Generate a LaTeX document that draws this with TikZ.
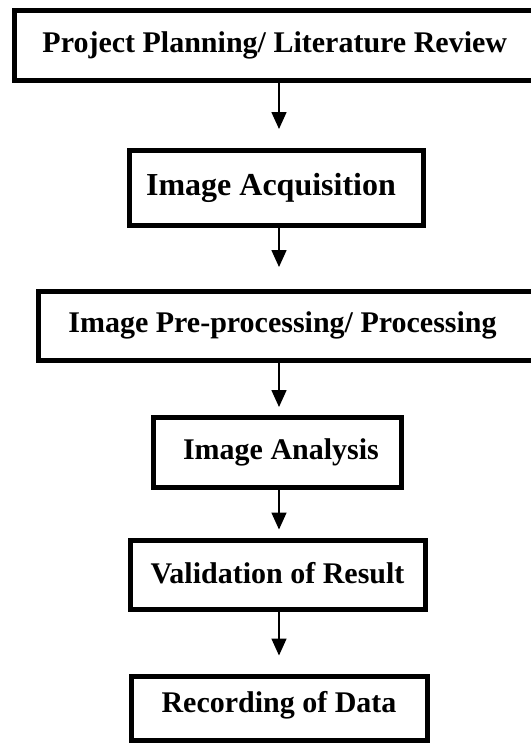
\documentclass[tikz,border=0pt]{standalone}
\usepackage{fontspec}
\setmainfont{Liberation Serif}
\usetikzlibrary{arrows.meta}
\tikzset{
  stepbox/.style={draw=black, line width=5pt, rectangle, inner sep=0pt,
    font=\fontsize{30}{36}\selectfont\bfseries, anchor=center},
  arr/.style={line width=1.6pt, -{Triangle[length=17pt,width=15pt]}}
}
\begin{document}
\begin{tikzpicture}[x=1pt,y=-1pt]
\useasboundingbox (0,0) rectangle (530,744);
\fill[white] (0,0) rectangle (530,744);
\node[stepbox, minimum width=520.5pt, minimum height=70pt] (b1) at (274.75,45) {\raisebox{-2pt}{Project Planning/ Literature Review}};
\node[stepbox, minimum width=294pt, minimum height=75pt, font=\fontsize{32}{38}\selectfont\bfseries] (b2) at (276,187.5) {\hspace*{-10pt}\raisebox{-3pt}{Image Acquisition}};
\node[stepbox, minimum width=497pt, minimum height=69pt] (b3) at (286.5,325.5) {\hspace*{-8pt}\raisebox{-4pt}{Image Pre-processing/ Processing}};
\node[stepbox, minimum width=248pt, minimum height=70pt] (b4) at (277,452) {\hspace*{8pt}Image Analysis};
\node[stepbox, minimum width=295pt, minimum height=69pt] (b5) at (277.5,574.5) {\raisebox{4pt}{Validation of Result}};
\node[stepbox, minimum width=296pt, minimum height=64pt] (b6) at (279,708) {\raisebox{13pt}{Recording of Data}};
\coordinate (ax) at (279,0);
\draw[arr, shorten >=18.5pt] (b1.south -| ax) -- (b2.north -| ax);
\draw[arr, shorten >=21.5pt] (b2.south -| ax) -- (b3.north -| ax);
\draw[arr, shorten >=7.5pt] (b3.south -| ax) -- (b4.north -| ax);
\draw[arr, shorten >=8pt] (b4.south -| ax) -- (b5.north -| ax);
\draw[arr, shorten >=18pt] (b5.south -| ax) -- (b6.north -| ax);
\end{tikzpicture}
\end{document}
